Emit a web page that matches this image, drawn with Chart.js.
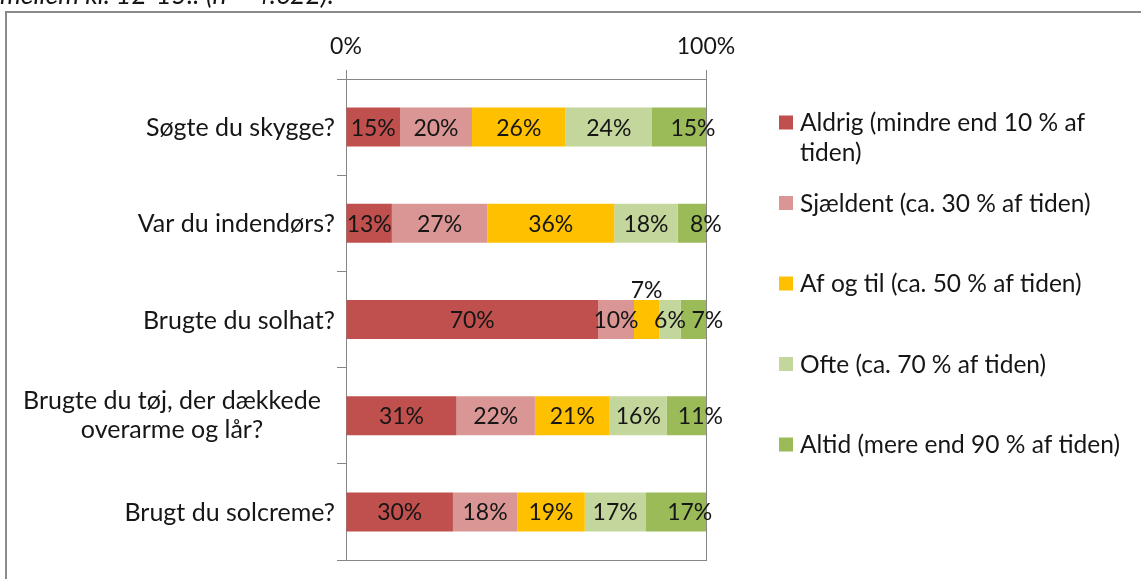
<!DOCTYPE html>
<html><head><meta charset="utf-8">
<script src="https://cdn.jsdelivr.net/npm/chart.js@4.4.1/dist/chart.umd.min.js"></script>
<style>
html,body{margin:0;padding:0;width:1141px;height:579px;overflow:hidden;background:#fff;}
#frame{position:absolute;left:5px;top:11px;width:1300px;height:800px;border:2px solid #8a8a8a;box-sizing:border-box;}
#wrap{position:absolute;left:0;top:0;width:1141px;height:579px;}
</style></head><body>
<div id="frame"></div>
<div id="wrap"><canvas id="c" width="1141" height="579"></canvas></div>
<script>
const titleText = "mellem kl. 12-15.: (n = 4.622).";
const categories = ["Søgte du skygge?", "Var du indendørs?", "Brugte du solhat?", ["Brugte du tøj, der dækkede", "overarme og lår?"], "Brugt du solcreme?"];
const seriesNames = ["Aldrig (mindre end 10 % af tiden)", "Sjældent (ca. 30 % af tiden)", "Af og til (ca. 50 % af tiden)", "Ofte (ca. 70 % af tiden)", "Altid (mere end 90 % af tiden)"];
const aldrig    = [15, 13, 70, 31, 30];
const sjaeldent = [20, 27, 10, 22, 18];
const afOgTil   = [26, 36, 7, 21, 19];
const ofte      = [24, 18, 6, 16, 17];
const altid     = [15, 8, 7, 11, 17];
const tickLabels = ["0%", "100%"];

const colors = ["#C0504D", "#D99694", "#FFC000", "#C3D69B", "#9BBB59"];
const rawSeries = [aldrig, sjaeldent, afOgTil, ofte, altid];
const rowSums = categories.map((_, i) => rawSeries.reduce((s, arr) => s + arr[i], 0));
const FONT = "Lato";
const FS = 23;      // data labels, axis ticks
const FS_CAT = 25;  // category labels
const FS_LEG = 24.5;// legend
const FS_TITLE = 26.5;
const TXT = "#161616";

const datasets = rawSeries.map((arr, di) => ({
  label: seriesNames[di],
  data: arr.map((v, i) => v / rowSums[i] * 100),
  backgroundColor: colors[di],
  borderWidth: 0,
  barPercentage: 0.405,
  categoryPercentage: 1.0,
  xAxisID: 'x'
}));

function wrapText(ctx, text, maxW) {
  const words = text.split(' ');
  const lines = [];
  let cur = '';
  for (const w of words) {
    const t = cur ? cur + ' ' + w : w;
    if (ctx.measureText(t).width > maxW && cur) { lines.push(cur); cur = w; }
    else cur = t;
  }
  if (cur) lines.push(cur);
  return lines;
}

const customDraw = {
  id: 'customDraw',
  afterDatasetsDraw(chart) {
    const ctx = chart.ctx;
    const ys = chart.scales.y;
    ctx.save();
    // data labels
    ctx.font = FS + 'px ' + FONT;
    ctx.fillStyle = TXT;
    ctx.textAlign = 'center';
    ctx.textBaseline = 'middle';
    const lastIdx = chart.data.datasets.length - 1;
    chart.data.datasets.forEach((ds, di) => {
      const meta = chart.getDatasetMeta(di);
      meta.data.forEach((bar, i) => {
        const p = bar.getProps(['x', 'base', 'y', 'height'], true);
        let cx = (p.x + p.base) / 2, cy = p.y + 1;
        if (di === lastIdx) cx += 14;
        if (di === 2 && i === 2) cy = p.y - p.height / 2 - 9;
        ctx.fillText(rawSeries[di][i] + '%', cx, cy);
      });
    });
    // category labels
    ctx.font = FS_CAT + 'px ' + FONT;
    const labelRight = ys.right - 11;
    categories.forEach((lab, i) => {
      const yc = ys.getPixelForValue(i);
      if (Array.isArray(lab)) {
        const lh = 29;
        const center = labelRight - 163;
        ctx.textAlign = 'center';
        lab.forEach((ln, k) => {
          ctx.fillText(ln, center, yc + (k - (lab.length - 1) / 2) * lh);
        });
      } else {
        ctx.textAlign = 'right';
        ctx.fillText(lab, labelRight, yc + 1);
      }
    });
    // legend
    ctx.font = FS_LEG + 'px ' + FONT;
    ctx.textAlign = 'left';
    const lgX = chart.chartArea.right + 73;
    const lgY0 = 122.5, lgStep = 80.5, lgLH = 30;
    seriesNames.forEach((name, di) => {
      const yc = lgY0 + di * lgStep;
      ctx.fillStyle = colors[di];
      ctx.fillRect(lgX, yc - 7, 14, 14);
      ctx.fillStyle = TXT;
      const lines = wrapText(ctx, name, 1141 - (lgX + 21) - 2);
      lines.forEach((ln, k) => ctx.fillText(ln, lgX + 21, yc + 1 + k * lgLH));
    });
    // cut-off caption above frame
    ctx.font = 'italic ' + FS_TITLE + 'px ' + FONT;
    ctx.textBaseline = 'alphabetic';
    ctx.fillText(titleText, 0, 4);
    ctx.restore();
  }
};

function build() {
  new Chart(document.getElementById('c'), {
    type: 'bar',
    data: { labels: categories, datasets },
    options: {
      indexAxis: 'y',
      responsive: false,
      animation: false,
      layout: { padding: { left: 0, top: 0, right: 435, bottom: 19 } },
      plugins: { legend: { display: false }, tooltip: { enabled: false } },
      scales: {
        x: {
          type: 'linear', position: 'top', stacked: true, min: 0, max: 100,
          ticks: {
            stepSize: 100, maxRotation: 0, padding: 10, color: TXT,
            font: { family: FONT, size: FS },
            callback: v => v === 0 ? tickLabels[0] : (v === 100 ? tickLabels[1] : '')
          },
          grid: { display: true, drawOnChartArea: true, drawTicks: true, tickLength: 9, color: '#868686', lineWidth: 1 },
          border: { display: true, color: '#868686', width: 1 },
          afterFit(s) { s.height = 79; s.paddingLeft = 0; s.paddingRight = 0; }
        },
        x2: {
          type: 'linear', position: 'bottom', min: 0, max: 100,
          ticks: { display: false },
          grid: { display: false, drawTicks: false },
          border: { display: true, color: '#868686', width: 1 },
          afterFit(s) { s.height = 0; s.paddingLeft = 0; s.paddingRight = 0; }
        },
        y: {
          type: 'category', stacked: true, offset: true,
          ticks: { display: false },
          grid: { display: true, offset: true, drawOnChartArea: false, drawTicks: true, tickLength: 9, color: '#868686' },
          border: { display: true, color: '#868686', width: 1 },
          afterFit(s) { s.width = 346; }
        }
      }
    },
    plugins: [customDraw]
  });
}
if (document.fonts && document.fonts.load) {
  Promise.all([document.fonts.load(FS + 'px ' + FONT), document.fonts.load('italic ' + FS + 'px ' + FONT)]).then(build, build);
} else build();
</script>
</body></html>
